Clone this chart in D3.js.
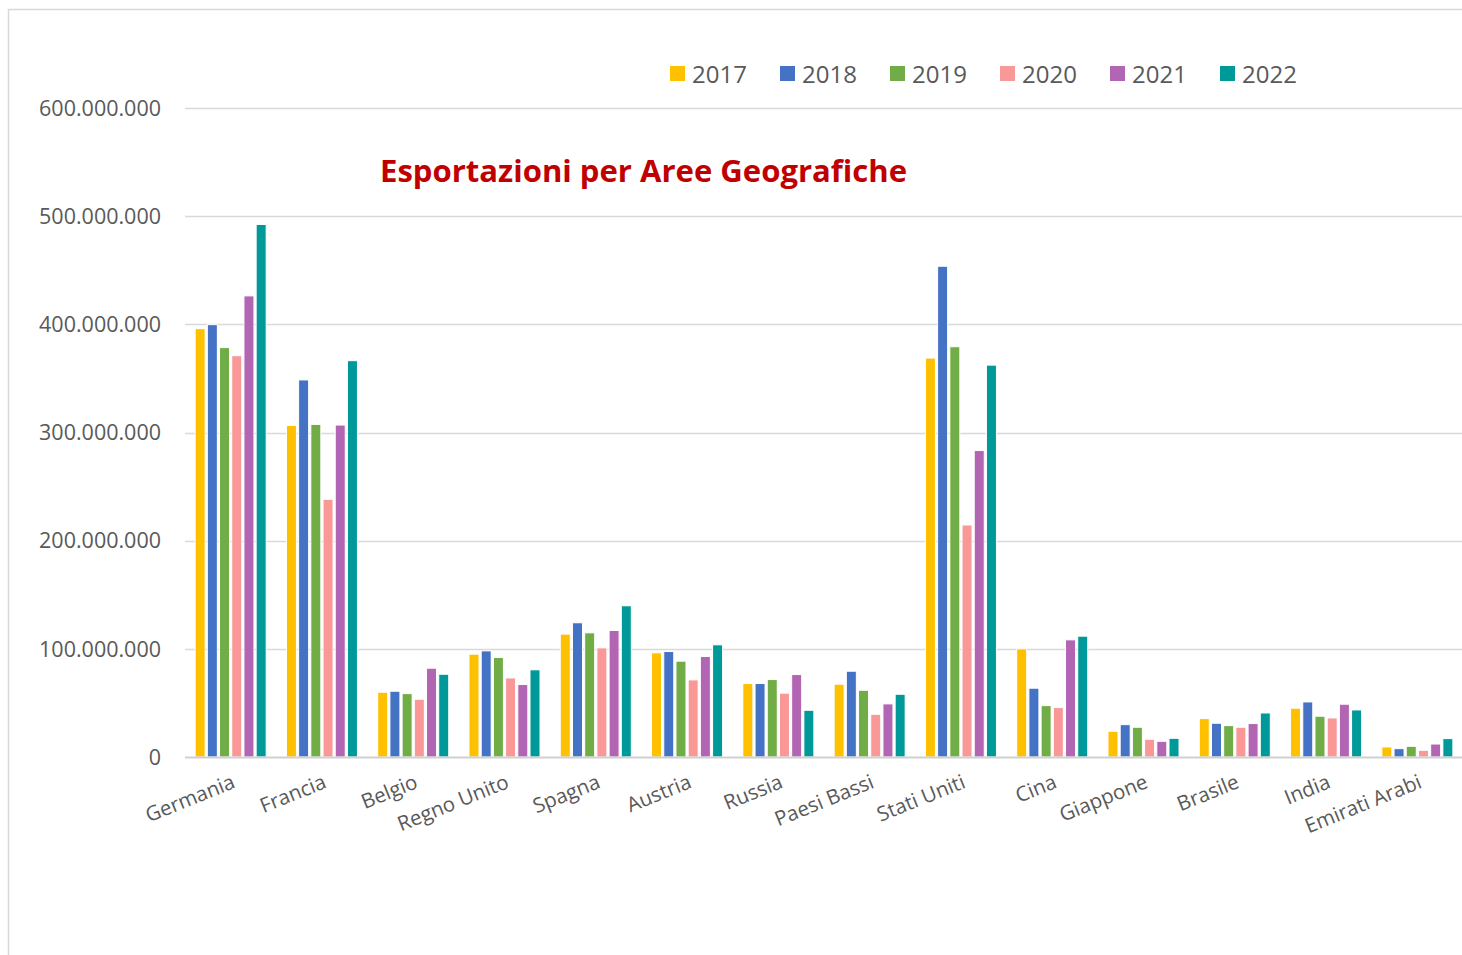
<!DOCTYPE html>
<html lang="it">
<head>
    <meta charset="UTF-8">
    <title>Esportazioni per Aree Geografiche</title>
    <script src="https://d3js.org/d3.v7.min.js"></script>
    <style>
        body { margin: 0; background: #fff; }
        text { font-family: "Open Sans", "DejaVu Sans", sans-serif; fill: #595959; }
        .grid line { stroke: #d9d9d9; stroke-width: 1.5px; }
        .bar { stroke: #fff; stroke-width: 1px; }
    </style>
</head>
<body>
    <svg width="1462" height="955"></svg>
    <script>
        // valori in euro (milioni)
        const paesi = ["Germania", "Francia", "Belgio", "Regno Unito", "Spagna", "Austria", "Russia",
            "Paesi Bassi", "Stati Uniti", "Cina", "Giappone", "Brasile", "India", "Emirati Arabi"];
        const anni = ["2017", "2018", "2019", "2020", "2021", "2022"];

        const v2017 = [396, 306.5, 59.9, 95.1, 113.6, 96.3, 67.9, 67.3, 368.8, 100, 23.8, 35.5, 45.1, 9.3];
        const v2018 = [399.7, 348.6, 60.8, 98.1, 124.1, 97.5, 67.9, 79.3, 453.7, 63.6, 29.9, 31.2, 50.9, 7.7];
        const v2019 = [378.5, 307.5, 58.6, 92.0, 114.8, 88.6, 71.6, 61.7, 379.3, 47.5, 27.5, 29.0, 37.7, 9.9];
        const v2020 = [371, 238.2, 53.4, 73.1, 100.9, 71.3, 59.0, 39.5, 214.5, 45.7, 16.4, 27.5, 36.1, 6.2];
        const v2021 = [426.3, 306.9, 82.1, 67.0, 117.0, 92.9, 76.2, 49.1, 283.3, 108.3, 14.5, 30.9, 48.8, 12.0];
        const v2022 = [492.3, 366.4, 76.5, 80.6, 139.8, 103.7, 43.2, 58.0, 362.3, 111.7, 17.3, 40.7, 43.5, 17.0];
        const serie = [v2017, v2018, v2019, v2020, v2021, v2022];

        const yTicks = [0, 100e6, 200e6, 300e6, 400e6, 500e6, 600e6];

        const colori = ["#FFC000", "#4472C4", "#70AD47", "#FA9898", "#B265B3", "#009999"];

        const it = d3.formatLocale({ decimal: ",", thousands: ".", grouping: [3], currency: ["€", ""] });
        const fmt = it.format(",d");

        const svg = d3.select("svg");

        // cornice del grafico
        svg.append("rect")
            .attr("x", 8.5).attr("y", 9.5)
            .attr("width", 1480).attr("height", 980)
            .attr("fill", "none")
            .attr("stroke", "#d9d9d9")
            .attr("stroke-width", 1.5);

        const x0 = d3.scaleBand().domain(paesi).range([185, 1463]).padding(0);
        const x1 = d3.scaleBand().domain(anni).range([0, x0.bandwidth()])
            .paddingInner(0.18).paddingOuter(0.83);
        const y = d3.scaleLinear().domain([0, 600e6]).range([757, 108]);

        // griglia
        svg.append("g")
            .attr("class", "grid")
            .selectAll("line")
            .data(yTicks.filter(d => d > 0))
            .join("line")
            .attr("x1", 185).attr("x2", 1462)
            .attr("y1", d => Math.round(y(d)) + 0.5)
            .attr("y2", d => Math.round(y(d)) + 0.5);

        // etichette asse y
        svg.append("g")
            .selectAll("text")
            .data(yTicks)
            .join("text")
            .attr("x", 161)
            .attr("y", d => y(d))
            .attr("dy", "0.36em")
            .attr("text-anchor", "end")
            .style("font-size", "21.5px")
            .text(d => fmt(d));

        // barre
        const gruppi = svg.append("g")
            .selectAll("g")
            .data(paesi)
            .join("g")
            .attr("transform", d => `translate(${x0(d)},0)`);

        gruppi.selectAll("rect")
            .data((p, i) => anni.map((a, j) => ({ anno: a, valore: serie[j][i] * 1e6, j: j })))
            .join("rect")
            .attr("class", "bar")
            .attr("x", d => x1(d.anno))
            .attr("width", x1.bandwidth())
            .attr("y", d => y(d.valore))
            .attr("height", d => y(0) - y(d.valore))
            .attr("fill", d => colori[d.j]);

        // asse x
        svg.append("line")
            .attr("x1", 185).attr("x2", 1462)
            .attr("y1", 757.5).attr("y2", 757.5)
            .attr("stroke", "#d0d0d0")
            .attr("stroke-width", 2);

        svg.append("g")
            .selectAll("text")
            .data(paesi)
            .join("text")
            .attr("transform", d => `translate(${x0(d) + x0.bandwidth() / 2},773) rotate(-22)`)
            .attr("text-anchor", "end")
            .attr("dy", "0.75em")
            .style("font-size", "20.5px")
            .text(d => d);

        // legenda
        const leg = svg.append("g")
            .selectAll("g")
            .data(anni)
            .join("g")
            .attr("transform", (d, i) => `translate(${670 + i * 110},66)`);

        leg.append("rect")
            .attr("width", 15).attr("height", 15)
            .attr("fill", (d, i) => colori[i]);

        leg.append("text")
            .attr("x", 22)
            .attr("y", 16.5)
            .style("font-size", "24px")
            .text(d => d);

        // titolo
        svg.append("text")
            .attr("x", 380)
            .attr("y", 182)
            .attr("textLength", 527)
            .attr("lengthAdjust", "spacingAndGlyphs")
            .style("font-size", "31px")
            .style("font-weight", "bold")
            .style("fill", "#C00000")
            .text("Esportazioni per Aree Geografiche");
    </script>
</body>
</html>
